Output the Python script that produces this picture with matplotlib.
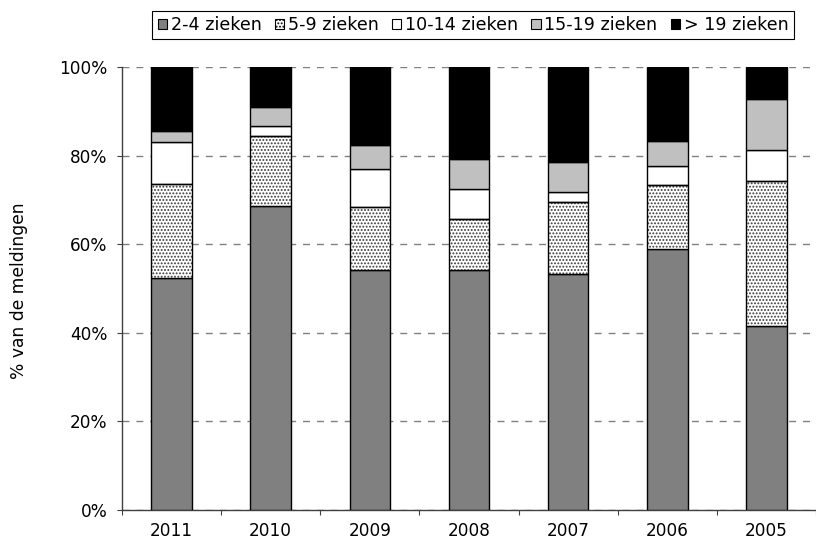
import matplotlib
matplotlib.use('Agg')
import matplotlib.pyplot as plt
from matplotlib.patches import Patch
import numpy as np

years = ['2011', '2010', '2009', '2008', '2007', '2006', '2005']
series_names = ['2-4 zieken', '5-9 zieken', '10-14 zieken', '15-19 zieken', '> 19 zieken']
s_2_4 = [52.3, 68.7, 54.2, 54.2, 53.3, 58.9, 41.6]
s_5_9 = [21.4, 15.7, 14.2, 11.6, 16.3, 14.5, 32.7]
s_10_14 = [9.4, 2.2, 8.5, 6.7, 2.2, 4.2, 7.0]
s_15_19 = [2.5, 4.3, 5.5, 6.7, 6.8, 5.8, 11.5]
s_19p = [14.4, 9.1, 17.6, 20.8, 21.4, 16.6, 7.2]
y_ticks = [0, 20, 40, 60, 80, 100]
y_ticklabels = ['0%', '20%', '40%', '60%', '80%', '100%']

plt.rcParams['font.family'] = ['DejaVu Sans']
plt.rcParams['hatch.linewidth'] = 0.9

W, H = 816, 543
fig = plt.figure(figsize=(W / 100, H / 100), dpi=100)
ax = fig.add_axes([122 / W, 33 / H, (W - 122) / W, 443 / H])

series = [s_2_4, s_5_9, s_10_14, s_15_19, s_19p]
colors = ['#808080', 'white', 'white', '#c0c0c0', 'black']
hatches = [None, '.....', None, None, None]

x = np.arange(len(years))
bw = 0.41
bottom = np.zeros(len(years))
for vals, fc, h in zip(series, colors, hatches):
    vals = np.array(vals, dtype=float)
    if h:
        ax.bar(x, vals, bw, bottom=bottom, color='white', edgecolor='#3a3a3a',
               hatch=h, linewidth=0, zorder=3)
        ax.bar(x, vals, bw, bottom=bottom, fill=False, edgecolor='black',
               linewidth=1, zorder=4)
    else:
        ax.bar(x, vals, bw, bottom=bottom, color=fc, edgecolor='black',
               linewidth=1, zorder=3)
    bottom += vals

step_px = 100.5
ax.set_xlim(-0.5, -0.5 + (W - 122) / step_px)
ax.set_ylim(0, 100)
ax.set_yticks(y_ticks)
ax.set_yticklabels(y_ticklabels)
ax.yaxis.grid(True, color='#808080', linestyle=(0, (5, 5)), linewidth=1)
ax.set_axisbelow(True)

for s in ['top', 'right']:
    ax.spines[s].set_visible(False)
for s in ['left', 'bottom']:
    ax.spines[s].set_color('#404040')
    ax.spines[s].set_linewidth(1)

ax.set_xticks(np.arange(-0.5, len(years) + 0.5, 1))
ax.set_xticklabels([])
ax.set_xticks(x, minor=True)
ax.set_xticklabels(years, minor=True)
ax.tick_params(axis='x', which='major', length=3.6, direction='out', color='#404040')
ax.tick_params(axis='x', which='minor', length=0, pad=9, labelsize=12.2)
ax.tick_params(axis='y', length=3.6, pad=7, labelsize=12.2, color='#404040')

handles = [Patch(facecolor=c, edgecolor='black', hatch=h, linewidth=0.8)
           for c, h in zip(colors, hatches)]
leg = fig.legend(handles, series_names, loc='center',
                 bbox_to_anchor=(473 / W, 1 - 25 / H), ncol=5, frameon=True,
                 fancybox=False, edgecolor='black', framealpha=1, fontsize=12.6,
                 handlelength=0.55, handleheight=0.55, handletextpad=0.2,
                 columnspacing=0.75, borderpad=0.3, borderaxespad=0)
leg.get_frame().set_linewidth(0.8)

fig.text(19 / W, 1 - 291 / H, '% van de meldingen', rotation=90,
         ha='center', va='center', fontsize=12.3)

fig.savefig('out.png', dpi=100)
